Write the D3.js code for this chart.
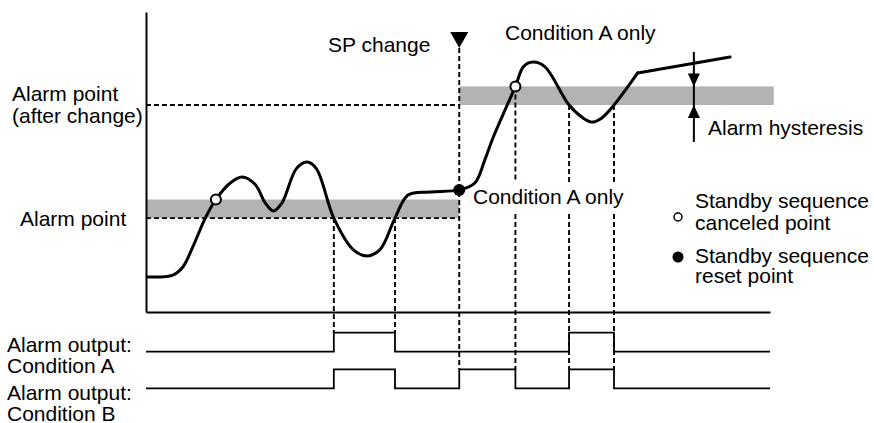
<!DOCTYPE html>
<html>
<head>
<meta charset="utf-8">
<script src="https://cdn.jsdelivr.net/npm/d3@7"></script>
<style>
  html, body { margin: 0; padding: 0; background: #fff; }
  svg { display: block; font-family: "Liberation Sans", Arial, Helvetica, sans-serif; }
</style>
</head>
<body>
<svg id="chart" width="874" height="423"></svg>
<script>
// process value trace, time 0-100 vs PV 0-100
const pvTime  = [0.2, 4.3, 5.9, 7.5, 9.5, 11.2, 13.5, 15.4, 17.5, 19.1, 20.4, 21.8, 24.1, 25.8, 27.3, 30.1, 33.2, 35.4, 37.5, 39.9, 42.0, 45.5, 50.2, 52.7, 54.3, 55.6, 59.2, 60.5, 62.0, 63.9, 67.8, 70.1, 71.5, 73.0, 75.0, 78.8];
const pvValue = [11.7, 12.3, 15.0, 21.7, 31.3, 37.5, 43.0, 45.0, 42.5, 36.4, 33.7, 36.4, 47.8, 50.0, 47.8, 31.3, 20.8, 18.7, 20.8, 31.3, 39.0, 40.0, 40.7, 43.0, 50.7, 58.0, 75.2, 81.8, 83.3, 81.8, 69.0, 64.6, 63.3, 64.6, 69.0, 79.7];
// straight tail after the last bend
const tailTime  = [78.8, 93.6];
const tailValue = [79.7, 85.0];

const alarmBefore = 31.3;
const alarmAfter = 69.0;
const hysteresis = 6.2;
const spChangeTime = 50.2;
const hysteresisTime = 87.8;

const cancelPoints = [[11.2, 37.5], [59.2, 75.2]];   // open circles
const resetPoints = [[50.2, 40.7]];                  // filled circle

// alarm outputs (on intervals)
const outputRows = ["Condition A", "Condition B"];
const outputOn = {
  "Condition A": [[30.1, 39.9], [67.8, 75.0]],
  "Condition B": [[30.1, 39.9], [50.2, 59.2], [67.8, 75.0]]
};

// dashed guides: time, level where they start, row whose high level they reach
const guideTime  = [30.1, 39.9, 59.2, 67.8, 75.0];
const guideFrom  = [alarmBefore, alarmBefore, alarmAfter + hysteresis, alarmAfter, alarmAfter];
const guideRow   = ["Condition A", "Condition A", "Condition B", "Condition B", "Condition B"];

const svg = d3.select("#chart");

const x = d3.scaleLinear().domain([0, 100]).range([146, 770]);
const y = d3.scaleLinear().domain([0, 100]).range([312, 12]);
const row = d3.scalePoint().domain(outputRows).range([351.7, 388.3]);
const level = 19;

const fontSize = 21;

// hysteresis bands
svg.append("rect")
    .attr("x", x(0)).attr("y", y(alarmBefore + hysteresis))
    .attr("width", x(spChangeTime) - x(0))
    .attr("height", y(alarmBefore) - y(alarmBefore + hysteresis))
    .attr("fill", "#b3b3b3");
svg.append("rect")
    .attr("x", x(spChangeTime)).attr("y", y(alarmAfter + hysteresis))
    .attr("width", x(100.6) - x(spChangeTime))
    .attr("height", y(alarmAfter) - y(alarmAfter + hysteresis))
    .attr("fill", "#b3b3b3");

const dashed = g => g.attr("stroke", "#000").attr("stroke-width", 1.9)
    .attr("stroke-dasharray", "5,3").attr("fill", "none");

// alarm point lines
svg.append("line").call(dashed)
    .attr("x1", x(0)).attr("x2", x(spChangeTime))
    .attr("y1", y(alarmBefore)).attr("y2", y(alarmBefore));
svg.append("line").call(dashed)
    .attr("x1", x(0)).attr("x2", x(spChangeTime))
    .attr("y1", y(alarmAfter)).attr("y2", y(alarmAfter));

// axes
svg.append("g").attr("transform", `translate(${x(0)},0)`)
    .call(d3.axisLeft(y).ticks(0).tickSizeOuter(0))
    .select(".domain").attr("stroke-width", 2);
svg.append("g").attr("transform", `translate(0,${y(0)})`)
    .call(d3.axisBottom(x).ticks(0).tickSizeOuter(0))
    .select(".domain").attr("stroke-width", 2);

// text labels
const label = (txt, px, py) => svg.append("text")
    .attr("x", px).attr("y", py)
    .attr("font-size", fontSize).attr("fill", "#000")
    .text(txt);

label("Alarm point", 12, 101);
label("(after change)", 12, 123);
label("Alarm point", 20, 226);
label("SP change", 328, 51.5);
label("Condition A only", 505, 40);
const midLabel = label("Condition A only", 473, 204);
label("Alarm hysteresis", 708, 135);
label("Standby sequence", 695, 207.5);
label("canceled point", 695, 229.5);
label("Standby sequence", 695, 262.5);
label("reset point", 695, 283);
label("Alarm output:", 7, 351.5);
label("Condition A", 7, 373);
label("Alarm output:", 7, 400);
label("Condition B", 7, 421);

const gapBox = midLabel.node().getBBox();

// SP change marker + line
svg.append("line").call(dashed)
    .attr("x1", x(spChangeTime)).attr("x2", x(spChangeTime))
    .attr("y1", 48).attr("y2", row("Condition B") - level);
svg.append("path")
    .attr("d", `M${x(spChangeTime) - 9},32L${x(spChangeTime) + 9},32L${x(spChangeTime)},48Z`)
    .attr("fill", "#000");

// dashed guides down to the outputs
guideTime.forEach((t, i) => {
  const px = x(t);
  const top = y(guideFrom[i]);
  const bottom = row(guideRow[i]) - level;
  let segs = [[top, bottom]];
  if (px > gapBox.x && px < gapBox.x + gapBox.width) {
    segs = [[top, gapBox.y - 3], [gapBox.y + gapBox.height + 6, bottom]];
  }
  segs.forEach(s => {
    svg.append("line").call(dashed)
        .attr("x1", px).attr("x2", px)
        .attr("y1", s[0]).attr("y2", s[1]);
  });
});

// PV curve
const pv = pvTime.map((t, i) => [t, pvValue[i]]);
const tail = tailTime.map((t, i) => [t, tailValue[i]]);
const lineSmooth = d3.line().x(d => x(d[0])).y(d => y(d[1])).curve(d3.curveCatmullRom.alpha(0.5));
const lineStraight = d3.line().x(d => x(d[0])).y(d => y(d[1]));

svg.append("path").attr("d", lineSmooth(pv))
    .attr("fill", "none").attr("stroke", "#000").attr("stroke-width", 3)
    .attr("stroke-linejoin", "round").attr("stroke-linecap", "round");
svg.append("path").attr("d", lineStraight(tail))
    .attr("fill", "none").attr("stroke", "#000").attr("stroke-width", 3)
    .attr("stroke-linejoin", "round").attr("stroke-linecap", "round");

// hysteresis arrow
const hx = x(hysteresisTime);
svg.append("line")
    .attr("x1", hx).attr("x2", hx)
    .attr("y1", y(86.7)).attr("y2", y(56.7))
    .attr("stroke", "#000").attr("stroke-width", 2);
const bandTop = y(alarmAfter + hysteresis), bandBot = y(alarmAfter);
svg.append("path")
    .attr("d", `M${hx - 6},${bandTop - 13}L${hx + 6},${bandTop - 13}L${hx},${bandTop}Z`)
    .attr("fill", "#000");
svg.append("path")
    .attr("d", `M${hx - 6},${bandBot + 13}L${hx + 6},${bandBot + 13}L${hx},${bandBot}Z`)
    .attr("fill", "#000");

// markers
svg.selectAll(".cancel").data(cancelPoints).join("circle")
    .attr("class", "cancel")
    .attr("cx", d => x(d[0])).attr("cy", d => y(d[1])).attr("r", 5)
    .attr("fill", "#fff").attr("stroke", "#000").attr("stroke-width", 2);
svg.selectAll(".reset").data(resetPoints).join("circle")
    .attr("class", "reset")
    .attr("cx", d => x(d[0])).attr("cy", d => y(d[1])).attr("r", 6)
    .attr("fill", "#000");

// legend markers
svg.append("circle").attr("cx", 678).attr("cy", 217).attr("r", 4)
    .attr("fill", "#fff").attr("stroke", "#000").attr("stroke-width", 1.5);
svg.append("circle").attr("cx", 678).attr("cy", 257).attr("r", 5.5)
    .attr("fill", "#000");

// alarm output step signals
const stepLine = d3.line().curve(d3.curveStepAfter);
outputRows.forEach(r => {
  const pts = [[x(0), row(r)]];
  outputOn[r].forEach(([t0, t1]) => {
    pts.push([x(t0), row(r) - level]);
    pts.push([x(t1), row(r)]);
  });
  pts.push([x(100), row(r)]);
  svg.append("path").attr("d", stepLine(pts))
      .attr("fill", "none").attr("stroke", "#000").attr("stroke-width", 1.8);
});
</script>
</body>
</html>
